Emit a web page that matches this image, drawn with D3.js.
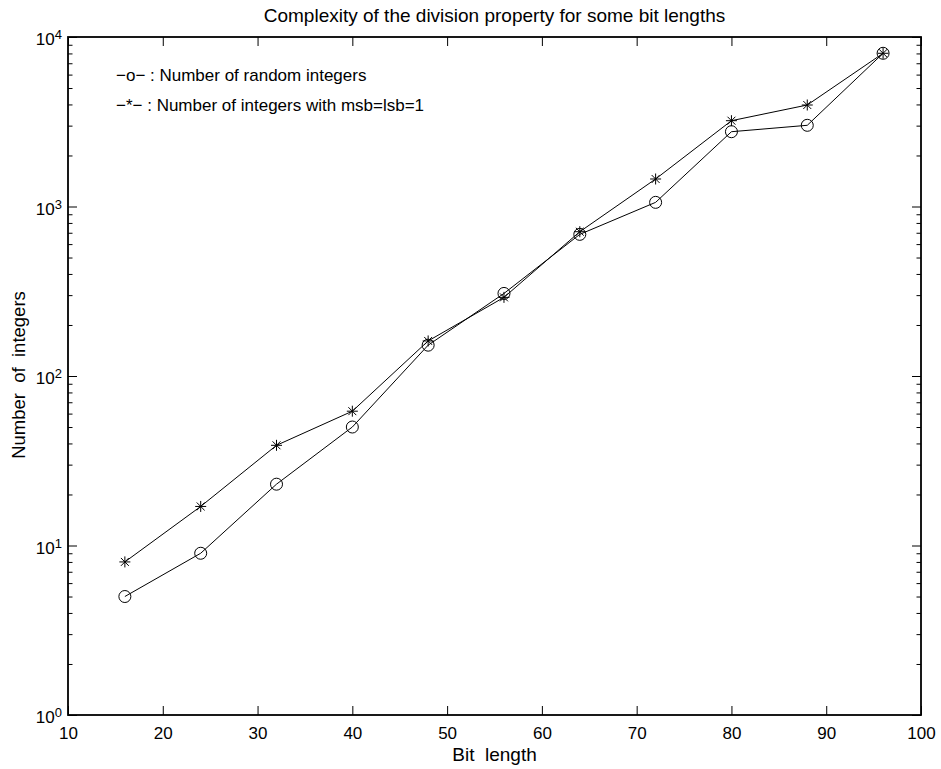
<!DOCTYPE html>
<html>
<meta charset="utf-8">
<head>
    <script src="https://d3js.org/d3.v7.min.js"></script>
    <style>
        body { margin: 0; background: #fff; }
        text { font-family: "Liberation Sans", Arial, sans-serif; fill: #000; }
    </style>
</head>
<body>
    <div id="my_dataviz"></div>
</body>

<script>
    // data
    const bitLengths = [16, 24, 32, 40, 48, 56, 64, 72, 80, 88, 96];
    const randomInts = [5, 9, 23, 50, 152, 307, 685, 1058, 2762, 3013, 8015];
    const msbLsbInts = [8, 17, 39, 62, 161, 291, 710, 1453, 3208, 3970, 8015];
    const xTicks = [10, 20, 30, 40, 50, 60, 70, 80, 90, 100];
    const yTicks = [1, 10, 100, 1000, 10000];
    const legendLabels = ["\u2212o\u2212 : Number of random integers",
                          "\u2212*\u2212 : Number of integers with msb=lsb=1"];

    const margin = { top: 37, right: 20, bottom: 54, left: 68 },
        width = 941 - margin.left - margin.right,
        height = 769 - margin.top - margin.bottom;

    const svg = d3.select("#my_dataviz")
        .append("svg")
            .attr("width", 941)
            .attr("height", 769)
        .append("g")
            .attr("transform", `translate(${margin.left}, ${margin.top})`);

    const x = d3.scaleLinear().domain([10, 100]).range([0, width]);
    const y = d3.scaleLog().domain([1, 10000]).range([height, 0]);

    // minor ticks for the log axis
    const minors = [];
    for (let e = 0; e < 4; e++)
        for (let m = 2; m <= 9; m++) minors.push(m * Math.pow(10, e));

    function styleAxis(g) {
        g.select(".domain").remove();
        g.selectAll("line").attr("stroke", "#000").attr("stroke-width", 1);
    }

    // X axis bottom + top
    const xb = svg.append("g")
        .attr("transform", `translate(0, ${height})`)
        .call(d3.axisBottom(x).tickValues(xTicks).tickSize(-9).tickPadding(12))
        .call(styleAxis);
    xb.selectAll("text").attr("font-size", 17);

    svg.append("g")
        .call(d3.axisTop(x).tickValues(xTicks).tickSize(-9).tickFormat(""))
        .call(styleAxis);

    // Y axis left + right, major and minor
    const yl = svg.append("g")
        .call(d3.axisLeft(y).tickValues(yTicks).tickSize(-9).tickPadding(6).tickFormat(""))
        .call(styleAxis);
    yl.selectAll(".tick text")
        .attr("font-size", 17)
        .attr("dy", "0.45em")
        .each(function(d) {
            const t = d3.select(this);
            t.append("tspan").text("10");
            t.append("tspan")
                .attr("font-size", 13)
                .attr("dy", -6)
                .text(Math.round(Math.log10(d)));
        });

    svg.append("g")
        .call(d3.axisLeft(y).tickValues(minors).tickSize(-4.5).tickFormat(""))
        .call(styleAxis);

    svg.append("g")
        .attr("transform", `translate(${width}, 0)`)
        .call(d3.axisRight(y).tickValues(yTicks).tickSize(-9).tickFormat(""))
        .call(styleAxis);

    svg.append("g")
        .attr("transform", `translate(${width}, 0)`)
        .call(d3.axisRight(y).tickValues(minors).tickSize(-4.5).tickFormat(""))
        .call(styleAxis);

    // frame
    svg.append("rect")
        .attr("width", width)
        .attr("height", height)
        .attr("fill", "none")
        .attr("stroke", "#000")
        .attr("stroke-width", 1.8);

    // lines
    const line = d3.line()
        .x((d, i) => x(bitLengths[i]))
        .y(d => y(d));

    [randomInts, msbLsbInts].forEach(series => {
        svg.append("path")
            .datum(series)
            .attr("d", line)
            .attr("fill", "none")
            .attr("stroke", "#000")
            .attr("stroke-width", 1);
    });

    // circle markers
    svg.selectAll("circle.mk")
        .data(randomInts)
        .join("circle")
            .attr("class", "mk")
            .attr("cx", (d, i) => x(bitLengths[i]))
            .attr("cy", d => y(d))
            .attr("r", 6)
            .attr("fill", "none")
            .attr("stroke", "#000")
            .attr("stroke-width", 1);

    // star markers
    const r = 5.5, rd = r * 0.72;
    const starPath = `M${-r},0L${r},0M0,${-r}L0,${r}M${-rd},${-rd}L${rd},${rd}M${-rd},${rd}L${rd},${-rd}`;
    svg.selectAll("path.star")
        .data(msbLsbInts)
        .join("path")
            .attr("class", "star")
            .attr("transform", (d, i) => `translate(${x(bitLengths[i])}, ${y(d)})`)
            .attr("d", starPath)
            .attr("fill", "none")
            .attr("stroke", "#000")
            .attr("stroke-width", 1);

    // legend
    svg.selectAll("text.legend")
        .data(legendLabels)
        .join("text")
            .attr("class", "legend")
            .attr("x", 116 - margin.left)
            .attr("y", (d, i) => 81 - margin.top + i * 30)
            .attr("font-size", 17)
            .text(d => d);

    // title and axis labels
    svg.append("text")
        .attr("x", width / 2)
        .attr("y", -15)
        .attr("text-anchor", "middle")
        .attr("font-size", 19)
        .text("Complexity of the division property for some bit lengths");

    svg.append("text")
        .attr("x", width / 2)
        .attr("y", height + 46)
        .attr("text-anchor", "middle")
        .attr("font-size", 19)
        .style("white-space", "pre")
        .text("Bit  length");

    svg.append("text")
        .attr("transform", `translate(${25 - margin.left}, ${375 - margin.top}) rotate(-90)`)
        .attr("text-anchor", "middle")
        .attr("font-size", 18.5)
        .style("white-space", "pre")
        .text("Number  of  integers");
</script>
</html>
